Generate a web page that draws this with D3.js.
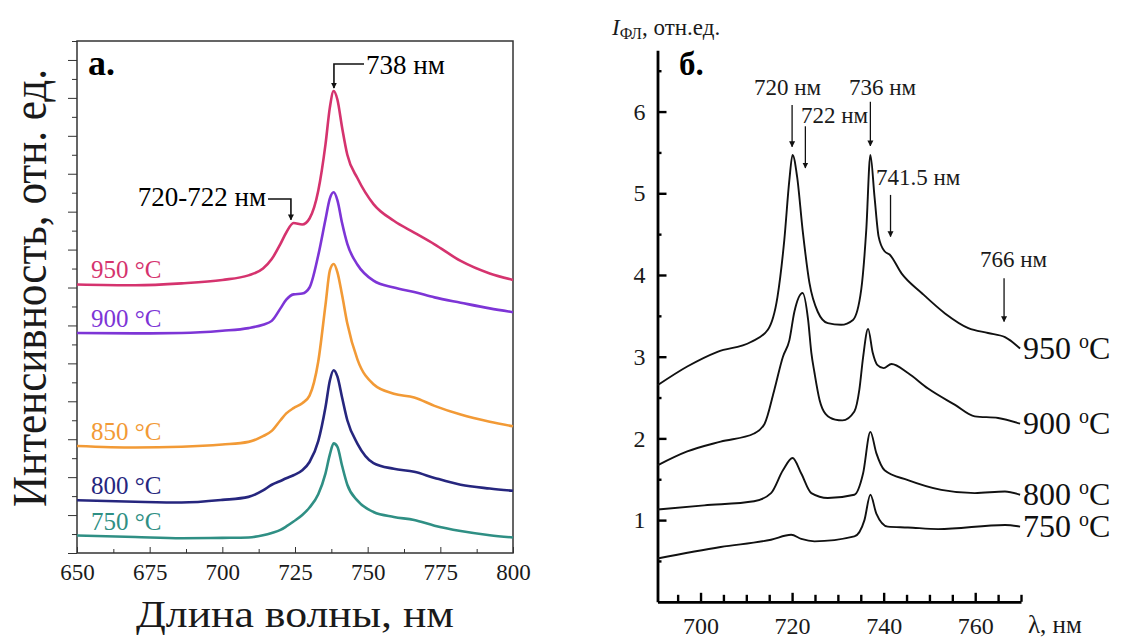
<!DOCTYPE html>
<html>
<head>
<meta charset="utf-8">
<script src="https://cdn.jsdelivr.net/npm/d3@7"></script>
<style>
  body { margin: 0; background: #fff; }
  svg { display: block; font-family: "Liberation Serif", "Times New Roman", serif; }
</style>
</head>
<body>
<script>
// panel a: spectra, intensity in tick units (13.5 = top of frame)
const wlA = [650, 670, 686, 700, 709, 714, 717, 720, 722, 724.5, 727.5, 730, 733, 735.5, 737, 738.3, 739.6, 741.2, 743, 746.5, 752, 759, 766, 773, 782, 792, 800];
const a750 = [0.46, 0.42, 0.39, 0.40, 0.41, 0.47, 0.53, 0.61, 0.70, 0.83, 1.00, 1.20, 1.55, 2.10, 2.60, 2.89, 2.80, 2.30, 1.80, 1.38, 1.08, 0.95, 0.87, 0.72, 0.58, 0.47, 0.41];
const a800 = [1.39, 1.35, 1.33, 1.40, 1.48, 1.65, 1.80, 1.90, 1.97, 2.05, 2.18, 2.40, 2.95, 3.85, 4.55, 4.82, 4.65, 4.10, 3.50, 2.88, 2.37, 2.22, 2.14, 1.98, 1.80, 1.70, 1.64];
const a850 = [2.82, 2.78, 2.80, 2.86, 2.93, 3.08, 3.22, 3.50, 3.68, 3.82, 3.95, 4.15, 5.05, 6.55, 7.45, 7.62, 7.40, 6.80, 6.05, 5.10, 4.45, 4.20, 4.10, 3.88, 3.65, 3.46, 3.34];
const a900 = [5.80, 5.79, 5.80, 5.86, 5.93, 6.02, 6.12, 6.45, 6.68, 6.82, 6.84, 7.00, 7.85, 8.80, 9.35, 9.51, 9.30, 8.70, 8.15, 7.60, 7.18, 7.00, 6.88, 6.74, 6.60, 6.45, 6.35];
const a950 = [7.08, 7.06, 7.11, 7.20, 7.32, 7.50, 7.75, 8.15, 8.45, 8.70, 8.66, 8.82, 9.55, 10.78, 11.75, 12.18, 11.95, 11.22, 10.50, 9.88, 9.20, 8.76, 8.45, 8.14, 7.70, 7.37, 7.20];
const labelsA = ['750 °C', '800 °C', '850 °C', '900 °C', '950 °C'];
const colorsA = ['#2f8f84', '#26267e', '#f29a36', '#7d35d6', '#d5336e'];
const xTicksA = [650, 675, 700, 725, 750, 775, 800];

// panel b: I_ФЛ, отн.ед.
const wl950b = [690.6, 697.1, 703.7, 711.0, 714.7, 716.8, 718.3, 719.4, 720.1, 721.1, 722.3, 723.8, 725.6, 727.8, 730.7, 733.3, 735.1, 736.2, 737.1, 738.0, 738.9, 740.2, 741.3, 743.9, 748.3, 753.4, 758.5, 762.8, 766.5, 769.8];
const i950b = [2.65, 2.88, 3.06, 3.18, 3.33, 3.73, 4.43, 5.16, 5.47, 5.20, 4.55, 3.90, 3.55, 3.41, 3.39, 3.45, 3.82, 4.55, 5.47, 4.96, 4.47, 4.29, 4.25, 4.02, 3.78, 3.53, 3.35, 3.29, 3.24, 3.10];
const wl900b = [690.6, 697.1, 704.4, 711.7, 714.0, 716.1, 718.0, 719.4, 720.5, 722.3, 723.5, 724.2, 724.9, 726.0, 727.3, 729.4, 731.0, 733.6, 734.7, 735.5, 736.6, 737.6, 738.6, 740.0, 741.7, 745.3, 749.7, 755.6, 759.9, 765.0, 769.8];
const i900b = [1.67, 1.84, 1.96, 2.06, 2.18, 2.59, 3.00, 3.20, 3.55, 3.78, 3.45, 3.05, 2.80, 2.47, 2.30, 2.23, 2.22, 2.33, 2.60, 2.99, 3.34, 3.05, 2.90, 2.86, 2.91, 2.80, 2.61, 2.41, 2.27, 2.25, 2.18];
const wl800b = [690.6, 700.8, 711.7, 715.4, 718.0, 720.1, 722.0, 724.2, 727.8, 733.6, 735.5, 737.1, 738.4, 740.2, 745.3, 752.6, 759.9, 766.5, 769.8];
const i800b = [1.13, 1.18, 1.23, 1.33, 1.61, 1.76, 1.57, 1.33, 1.27, 1.31, 1.57, 2.08, 1.82, 1.61, 1.49, 1.37, 1.33, 1.35, 1.31];
const wl750b = [690.6, 704.4, 715.4, 719.8, 722.0, 724.9, 733.6, 735.8, 737.1, 738.4, 740.9, 745.3, 751.9, 766.5, 769.8];
const i750b = [0.53, 0.67, 0.76, 0.82, 0.77, 0.74, 0.80, 1.00, 1.31, 1.08, 0.92, 0.91, 0.89, 0.94, 0.92];
const tempsB = ['750', '800', '900', '950'];
const xTicksB = [700, 720, 740, 760];
const yTicksB = [1, 2, 3, 4, 5, 6];

const svg = d3.select('body')
  .append('svg')
  .attr('width', 1127)
  .attr('height', 638);

svg.append('defs')
  .append('marker')
    .attr('id', 'arrow')
    .attr('viewBox', '0 0 10 10')
    .attr('refX', 9)
    .attr('refY', 5)
    .attr('markerWidth', 6)
    .attr('markerHeight', 8)
    .attr('markerUnits', 'userSpaceOnUse')
    .attr('orient', 'auto')
  .append('path')
    .attr('d', 'M0,0L10,5L0,10z')
    .attr('fill', '#111');

// ---------- panel a ----------
const xA = d3.scaleLinear().domain([650, 800]).range([77, 513]);
const yA = d3.scaleLinear().domain([0, 13.5]).range([553, 41]);

function styleAxis(g, size, color) {
  g.attr('font-family', null).attr('font-size', size);
  g.select('.domain').remove();
  g.selectAll('line').attr('stroke', color);
  g.selectAll('text').attr('fill', '#1a1a1a');
}

svg.append('g')
  .attr('transform', 'translate(0,553)')
  .call(d3.axisBottom(xA).tickValues(xTicksA).tickSize(-6).tickPadding(11).tickFormat(d3.format('d')))
  .call(g => styleAxis(g, 23, '#333'));

svg.append('g')
  .attr('transform', 'translate(0,553)')
  .call(d3.axisBottom(xA).tickValues(xTicksA.slice(1).map(d => d - 12.5)).tickSize(-4).tickFormat(''))
  .call(g => styleAxis(g, 23, '#333'));

svg.append('g')
  .attr('transform', `translate(${xA(650)},0)`)
  .call(d3.axisLeft(yA).tickValues(d3.range(0, 14, 1)).tickSize(9).tickFormat(''))
  .call(g => styleAxis(g, 23, '#333'));

svg.append('g')
  .attr('transform', `translate(${xA(650)},0)`)
  .call(d3.axisLeft(yA).tickValues(d3.range(0.5, 13.6, 1)).tickSize(5).tickFormat(''))
  .call(g => styleAxis(g, 23, '#333'));

svg.append('rect')
  .attr('x', xA(650))
  .attr('y', yA(13.5))
  .attr('width', xA(800) - xA(650))
  .attr('height', yA(0) - yA(13.5))
  .attr('fill', 'none')
  .attr('stroke', '#333')
  .attr('stroke-width', 1.5);

const lineA = d3.line()
  .x((d, i) => xA(wlA[i]))
  .y(d => yA(d))
  .curve(d3.curveMonotoneX);

[a750, a800, a850, a900, a950].forEach((values, k) => {
  svg.append('path')
    .attr('d', lineA(values))
    .attr('fill', 'none')
    .attr('stroke', colorsA[k])
    .attr('stroke-width', 2.6)
    .attr('stroke-linejoin', 'round');

  svg.append('text')
    .attr('x', xA(650) + 14)
    .attr('y', yA(values[0]) - 6)
    .attr('font-size', 25)
    .attr('fill', colorsA[k])
    .text(labelsA[k]);
});

svg.append('text')
  .attr('x', 88)
  .attr('y', 75)
  .attr('font-size', 36)
  .attr('font-weight', 'bold')
  .text('а.');

svg.append('text')
  .attr('x', 366)
  .attr('y', 74)
  .attr('font-size', 27)
  .text('738 нм');

svg.append('path')
  .attr('d', `M364,64H${xA(738.4)}V${yA(12.18) - 3}`)
  .attr('fill', 'none')
  .attr('stroke', '#111')
  .attr('stroke-width', 1.6)
  .attr('marker-end', 'url(#arrow)');

svg.append('text')
  .attr('x', 266)
  .attr('y', 206)
  .attr('text-anchor', 'end')
  .attr('font-size', 27)
  .text('720-722 нм');

svg.append('path')
  .attr('d', `M268,199H${xA(723.6)}V${yA(8.68) - 4}`)
  .attr('fill', 'none')
  .attr('stroke', '#111')
  .attr('stroke-width', 1.6)
  .attr('marker-end', 'url(#arrow)');

svg.append('text')
  .attr('x', xA(725))
  .attr('y', 627)
  .attr('text-anchor', 'middle')
  .attr('font-size', 37)
  .attr('textLength', 318)
  .attr('lengthAdjust', 'spacingAndGlyphs')
  .attr('fill', '#1a1a1a')
  .text('Длина волны, нм');

svg.append('text')
  .attr('transform', 'translate(46,288) rotate(-90) scale(1,1.35)')
  .attr('text-anchor', 'middle')
  .attr('font-size', 36)
  .attr('textLength', 438)
  .attr('lengthAdjust', 'spacingAndGlyphs')
  .attr('fill', '#1a1a1a')
  .text('Интенсивность, отн. ед.');

// ---------- panel b ----------
const xB = d3.scaleLinear().domain([690.6, 770]).range([657.5, 1021]);
const yB = d3.scaleLinear().domain([0, 6.75]).range([601.8, 50.3]);

function styleAxisB(g) {
  g.attr('font-family', null).attr('font-size', 24);
  g.select('.domain').attr('stroke', '#000').attr('stroke-width', 2.8);
  g.selectAll('line').attr('stroke', '#000').attr('stroke-width', 2.4);
  g.selectAll('text').attr('fill', '#1a1a1a');
}

svg.append('g')
  .attr('transform', `translate(0,${yB(0)})`)
  .call(d3.axisBottom(xB).tickValues(xTicksB).tickSize(-9).tickSizeOuter(0).tickPadding(15).tickFormat(d3.format('d')))
  .call(styleAxisB);

svg.append('g')
  .attr('transform', `translate(0,${yB(0)})`)
  .call(d3.axisBottom(xB).tickValues(d3.range(695, 771, 5).filter(d => d % 20 !== 0)).tickSize(-7).tickFormat(''))
  .call(g => { styleAxisB(g); g.select('.domain').remove(); });

svg.append('g')
  .attr('transform', `translate(${xB(690.6)},0)`)
  .call(d3.axisLeft(yB).tickValues(yTicksB).tickSize(-9).tickSizeOuter(0).tickPadding(12).tickFormat(d3.format('d')))
  .call(styleAxisB);

svg.append('g')
  .attr('transform', `translate(${xB(690.6)},0)`)
  .call(d3.axisLeft(yB).tickValues(d3.range(0.5, 6.6, 1)).tickSize(-4).tickFormat(''))
  .call(g => { styleAxisB(g); g.select('.domain').remove(); });

const seriesB = [[wl750b, i750b], [wl800b, i800b], [wl900b, i900b], [wl950b, i950b]];

seriesB.forEach(([wl, vals], k) => {
  const line = d3.line()
    .x((d, i) => xB(wl[i]))
    .y(d => yB(d))
    .curve(d3.curveMonotoneX);

  svg.append('path')
    .attr('d', line(vals))
    .attr('fill', 'none')
    .attr('stroke', '#111')
    .attr('stroke-width', 1.9)
    .attr('stroke-linejoin', 'round');

  const t = svg.append('text')
    .attr('x', 1023)
    .attr('y', yB(vals[vals.length - 1]) + 10)
    .attr('font-size', 32)
    .attr('fill', '#111')
    .text(tempsB[k]);
  t.append('tspan')
    .attr('font-size', 20)
    .attr('dx', 8)
    .attr('dy', -11)
    .text('o');
  t.append('tspan')
    .attr('dy', 11)
    .text('C');
});

svg.append('text')
  .attr('x', 679)
  .attr('y', 75)
  .attr('font-size', 33)
  .attr('font-weight', 'bold')
  .text('б.');

const ylab = svg.append('text')
  .attr('x', 612)
  .attr('y', 35)
  .attr('font-size', 23)
  .attr('fill', '#1a1a1a');
ylab.append('tspan').attr('font-style', 'italic').text('I');
ylab.append('tspan').attr('font-size', 16).attr('dy', 4).text('ФЛ');
ylab.append('tspan').attr('dy', -4).text(', отн.ед.');

svg.append('text')
  .attr('x', 1028)
  .attr('y', 633)
  .attr('font-size', 25)
  .attr('fill', '#1a1a1a')
  .text('λ, нм');

const notesB = [
  { text: '720 нм', tx: 754, ty: 95, wl: 720.0, y1: 6.08, y2: 5.57 },
  { text: '722 нм', tx: 801, ty: 123, wl: 722.9, y1: 5.82, y2: 5.31 },
  { text: '736 нм', tx: 849, ty: 95, wl: 737.1, y1: 6.12, y2: 5.58 },
  { text: '741.5 нм', tx: 876, ty: 185, wl: 741.5, y1: 4.98, y2: 4.47 },
  { text: '766 нм', tx: 980, ty: 267, wl: 766.3, y1: 3.96, y2: 3.43 },
];

notesB.forEach(n => {
  svg.append('text')
    .attr('x', n.tx)
    .attr('y', n.ty)
    .attr('font-size', 23)
    .attr('fill', '#1a1a1a')
    .text(n.text);
  svg.append('line')
    .attr('x1', xB(n.wl))
    .attr('x2', xB(n.wl))
    .attr('y1', yB(n.y1))
    .attr('y2', yB(n.y2))
    .attr('stroke', '#111')
    .attr('stroke-width', 1.3)
    .attr('marker-end', 'url(#arrow)');
});
</script>
</body>
</html>
